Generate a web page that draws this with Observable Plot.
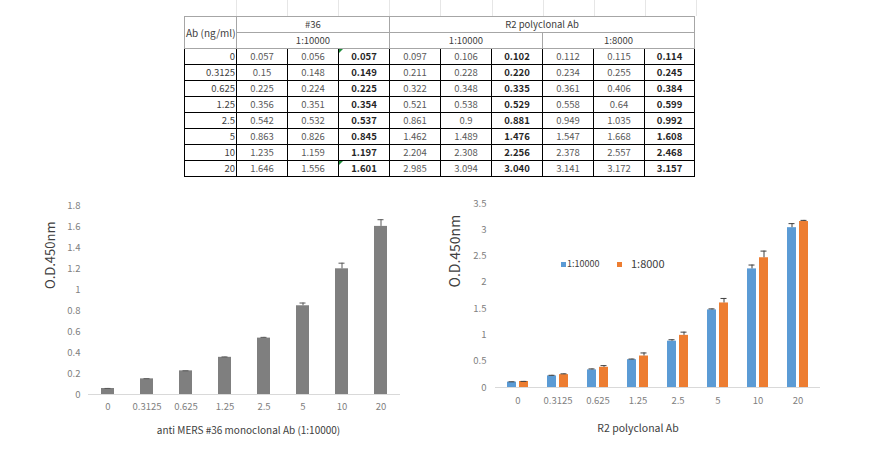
<!DOCTYPE html>
<html>
<head>
<meta charset="utf-8">
<script src="https://cdn.jsdelivr.net/npm/d3@7"></script>
<script src="https://cdn.jsdelivr.net/npm/@observablehq/plot@0.6"></script>
<style>
  html, body { margin: 0; padding: 0; background: #fff; }
  body { width: 880px; height: 456px; position: relative; overflow: hidden; font-family: "Noto Sans CJK KR", "Noto Sans", sans-serif; }
  .abs { position: absolute; }
  #tbl { position: absolute; left: 184px; top: 16px; border-collapse: collapse; table-layout: fixed; width: 510px; font-size: 9.5px; }
  #tbl td { height: 15px; padding: 0; line-height: 15px; text-align: center; white-space: nowrap; overflow: visible; color: #595959; position: relative; }
  #tbl td.h { border: 1px solid #a6a6a6; color: #404040; }
  #tbl td.d { border: 1px solid #000; }
  #tbl td.ab { text-align: right; padding-right: 1px; color: #404040; }
  #tbl td.abh { text-align: left; padding-left: 1px; font-size: 10px; }
  #tbl td.b { font-weight: bold; color: #262626; }
  #tbl td.flag::before { content: ""; position: absolute; left: 0; top: 0; border-top: 4px solid #1e8c3a; border-right: 4px solid transparent; }
  .grid { position: absolute; background: #e6e6e6; }
  .leg { position: absolute; color: #404040; white-space: nowrap; }
  .sw { position: absolute; width: 5px; height: 5px; }
</style>
</head>
<body>
<div id="left" class="abs" style="left:0px;top:190px;"></div>
<div id="right" class="abs" style="left:440px;top:190px;"></div>
<script>
// ---- data ----
const conc = ["0", "0.3125", "0.625", "1.25", "2.5", "5", "10", "20"];
const m36Rep1 = [0.057, 0.15, 0.225, 0.356, 0.542, 0.863, 1.235, 1.646];
const m36Rep2 = [0.056, 0.148, 0.224, 0.351, 0.532, 0.826, 1.159, 1.556];
const m36Mean = [0.057, 0.149, 0.225, 0.354, 0.537, 0.845, 1.197, 1.601];
const r2aRep1 = [0.097, 0.211, 0.322, 0.521, 0.861, 1.462, 2.204, 2.985];
const r2aRep2 = [0.106, 0.228, 0.348, 0.538, 0.9, 1.489, 2.308, 3.094];
const r2aMean = [0.102, 0.220, 0.335, 0.529, 0.881, 1.476, 2.256, 3.040];
const r2bRep1 = [0.112, 0.234, 0.361, 0.558, 0.949, 1.547, 2.378, 3.141];
const r2bRep2 = [0.115, 0.255, 0.406, 0.64, 1.035, 1.668, 2.557, 3.172];
const r2bMean = [0.114, 0.245, 0.384, 0.599, 0.992, 1.608, 2.468, 3.157];
const seriesNames = ["1:10000", "1:8000"];
const yTicksLeft = [0, 0.2, 0.4, 0.6, 0.8, 1, 1.2, 1.4, 1.6, 1.8];
const yTicksRight = [0, 0.5, 1, 1.5, 2, 2.5, 3, 3.5];
const leftXTitle = "anti MERS #36 monoclonal Ab (1:10000)";
const rightXTitle = "R2 polyclonal Ab";
const yTitle = "O.D.450nm";
const tblHeadAb = "Ab (ng/ml)";
const tblHead1 = ["#36", "R2 polyclonal Ab"];
const tblHead2 = ["1:10000", "1:10000", "1:8000"];

const sd = (a, b) => Math.abs(a - b) / Math.SQRT2;

// ---- table ----
const tbl = document.createElement("table");
tbl.id = "tbl";
const cg = document.createElement("colgroup");
[52, 51, 51, 51, 51, 51, 51, 51, 51, 50].forEach(w => { const c = document.createElement("col"); c.style.width = w + "px"; cg.appendChild(c); });
tbl.appendChild(cg);
function td(tr, text, cls, attrs) {
  const c = document.createElement("td");
  c.textContent = text; c.className = cls;
  if (attrs) for (const k in attrs) c.setAttribute(k, attrs[k]);
  tr.appendChild(c); return c;
}
let tr = document.createElement("tr");
td(tr, tblHeadAb, "h abh", {rowspan: 2});
td(tr, tblHead1[0], "h", {colspan: 3});
td(tr, tblHead1[1], "h", {colspan: 6});
tbl.appendChild(tr);
tr = document.createElement("tr");
tblHead2.forEach(t => td(tr, t, "h", {colspan: 3}));
tbl.appendChild(tr);
conc.forEach((c, i) => {
  const r = document.createElement("tr");
  td(r, c, "d ab");
  [[m36Rep1, m36Rep2, m36Mean], [r2aRep1, r2aRep2, r2aMean], [r2bRep1, r2bRep2, r2bMean]].forEach(([a, b, m], g) => {
    td(r, String(a[i]), "d");
    td(r, String(b[i]), "d");
    td(r, m[i].toFixed(3), "d b" + (g === 0 && (i === 0 || i === conc.length - 1) ? " flag" : ""));
  });
  tbl.appendChild(r);
});
document.body.appendChild(tbl);

// faint spreadsheet gridlines above the table
[236, 287, 338, 389, 440, 492, 543, 594, 645, 696].forEach(x => {
  const g = document.createElement("div"); g.className = "grid";
  g.style.left = x + "px"; g.style.top = "0px"; g.style.width = "1px"; g.style.height = "16px";
  document.body.appendChild(g);
});

// ---- left chart ----
const d1 = conc.map((c, i) => ({conc: c, mean: m36Mean[i], sd: sd(m36Rep1[i], m36Rep2[i])}));
const left = Plot.plot({
  width: 440, height: 260,
  marginLeft: 88, marginRight: 40, marginTop: 15, marginBottom: 56,
  style: {fontFamily: '"Noto Sans CJK KR", "Noto Sans", sans-serif', fontSize: "9.5px", color: "#808080", background: "none"},
  x: {domain: conc, paddingInner: 0.667, paddingOuter: 0.333, label: null, tickSize: 0, tickPadding: 9},
  y: {domain: [0, 1.8], ticks: yTicksLeft, tickFormat: d => String(d), tickSize: 0, tickPadding: 8, label: null},
  marks: [
    Plot.ruleY([0], {stroke: "#d9d9d9"}),
    Plot.barY(d1, {x: "conc", y: "mean", fill: "#7f7f7f"}),
    Plot.ruleX(d1, {x: "conc", y1: "mean", y2: d => d.mean + d.sd, stroke: "#595959"}),
    Plot.tickY(d1, {x: "conc", y: d => d.mean + d.sd, stroke: "#595959", insetLeft: 3.5, insetRight: 3.5}),
    Plot.text([leftXTitle], {text: d => d, frameAnchor: "bottom", dx: 4, dy: 36, fill: "#404040", fontSize: 10, lineAnchor: "middle"}),
    Plot.text([yTitle], {text: d => d, frameAnchor: "left", dx: -38, dy: -11, rotate: -90, fill: "#404040", fontSize: 13, lineAnchor: "middle"})
  ]
});
document.getElementById("left").appendChild(left);

// ---- right chart ----
const d2 = [];
conc.forEach((c, i) => {
  d2.push({conc: c, series: seriesNames[0], mean: r2aMean[i], sd: sd(r2aRep1[i], r2aRep2[i])});
  d2.push({conc: c, series: seriesNames[1], mean: r2bMean[i], sd: sd(r2bRep1[i], r2bRep2[i])});
});
const colors = {"1:10000": "#5b9bd5", "1:8000": "#ed7d31"};
const sA = d2.filter(d => d.series === seriesNames[0]);
const sB = d2.filter(d => d.series === seriesNames[1]);
const errMarks = (data, dx) => [
  Plot.ruleX(data, {x: "conc", y1: "mean", y2: d => d.mean + d.sd, stroke: "#404040", dx}),
  Plot.tickY(data, {x: "conc", y: d => d.mean + d.sd, stroke: "#404040", dx, insetLeft: 1.5, insetRight: 1.5})
];
const right = Plot.plot({
  width: 440, height: 260,
  marginLeft: 55, marginRight: 60, marginTop: 13, marginBottom: 63,
  style: {fontFamily: '"Noto Sans CJK KR", "Noto Sans", sans-serif', fontSize: "9.5px", color: "#808080", background: "none"},
  x: {domain: conc, paddingInner: 0.778, paddingOuter: 0.389, label: null, tickSize: 0, tickPadding: 10},
  y: {domain: [0, 3.5], ticks: yTicksRight, tickFormat: d => String(d), tickSize: 0, tickPadding: 9, label: null},
  marks: [
    Plot.ruleY([0], {stroke: "#d9d9d9"}),
    Plot.barY(sA, {x: "conc", y: "mean", fill: colors[seriesNames[0]], dx: -6}),
    Plot.barY(sB, {x: "conc", y: "mean", fill: colors[seriesNames[1]], dx: 6}),
    ...errMarks(sA, -6),
    ...errMarks(sB, 6),
    Plot.text([rightXTitle], {text: d => d, frameAnchor: "bottom", dx: -20, dy: 41, fill: "#404040", fontSize: 10.5, lineAnchor: "middle"}),
    Plot.text([yTitle], {text: d => d, frameAnchor: "left", dx: -40, dy: -8, rotate: -90, fill: "#404040", fontSize: 14, lineAnchor: "middle"})
  ]
});
document.getElementById("right").appendChild(right);

// ---- legend (HTML) ----
const legItems = [
  {name: seriesNames[0], sx: 561, tx: 567, size: 9},
  {name: seriesNames[1], sx: 617, tx: 631, size: 11}
];
legItems.forEach(it => {
  const s = document.createElement("div"); s.className = "sw";
  s.style.left = it.sx + "px"; s.style.top = "262px"; s.style.background = colors[it.name];
  document.body.appendChild(s);
  const t = document.createElement("div"); t.className = "leg";
  t.textContent = it.name; t.style.left = it.tx + "px"; t.style.top = (264 - it.size * 0.7) + "px";
  t.style.fontSize = it.size + "px"; t.style.lineHeight = (it.size * 1.4) + "px";
  document.body.appendChild(t);
});
</script>
</body>
</html>
